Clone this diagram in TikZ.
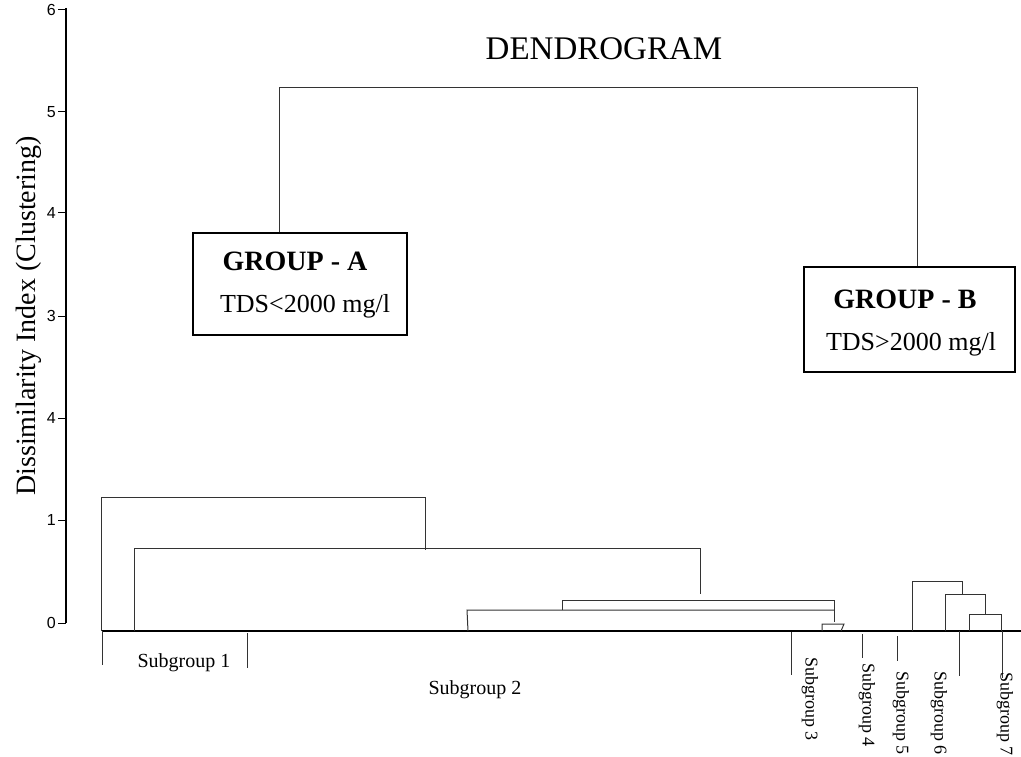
\documentclass[tikz,border=0pt]{standalone}
\usepackage{fontspec}
\setmainfont{Liberation Serif}
\newfontfamily\axisfont{Liberation Sans}
\newcommand{\fsz}[1]{\fontsize{#1}{#1}\selectfont}

\begin{document}
\begin{tikzpicture}[x=1pt, y=-1pt,
    link/.style={draw=black!80, line width=1pt},
    groupbox/.style={draw, line width=2.4pt, minimum width=#1, inner sep=0pt},
    subname/.style={font=\fsz{20}, inner sep=0pt},
    ticklab/.style={font=\axisfont\fsz{16}, anchor=east, inner sep=0pt}]
    \useasboundingbox (0, 0) rectangle (1021, 757);
        % axis
        \draw[line width=1.6pt] (66, 8) to (66, 623);
        \foreach \y/\lab [count=\i] in {10/6, 112/5, 213/4, 316/3, 418/4, 520/1, 623/0} {
            \draw[line width=1pt] (58, \y) to (66, \y);
            \node[ticklab] (tick\i) at (56, \y) {\lab};
        }
        \node[rotate=90, font=\fsz{28}] (ylab) at (29, 316) {Dissimilarity Index (Clustering)};
        \node[anchor=base, font=\fsz{33}] (title) at (604, 60) {DENDROGRAM};
        % group boxes
        \node[groupbox=214pt, minimum height=102pt] (grpA) at (300, 284) {};
        \node[anchor=base, font=\bfseries\fsz{28}] (grpAname) at (295, 270) {GROUP - A};
        \node[anchor=base, font=\fsz{26}] (grpAtds) at (305, 312) {TDS<2000 mg/l};
        \node[groupbox=211pt, minimum height=105pt] (grpB) at (909.5, 319.5) {};
        \node[anchor=base, font=\bfseries\fsz{28}] (grpBname) at (905, 308) {GROUP - B};
        \node[anchor=base, font=\fsz{26}] (grpBtds) at (911, 350) {TDS>2000 mg/l};
        \coordinate (topL) at (279, 88);
        \coordinate (topR) at (917, 88);
        \draw[link] (grpA.north -| topL) -- (topL) -- (topR) -- (grpB.north -| topR);
        % lower tree
        \draw[line width=2.4pt] (102, 631) to (1021, 631);
        \draw[link] (101, 631) -- (101, 497) -- (425, 497) -- (425, 550);
        \draw[link] (134, 631) -- (134, 548) -- (700, 548) -- (700, 594);
        \draw[link] (562, 610) -- (562, 600) -- (834, 600) -- (834, 622);
        \draw[link] (468, 631) -- (467, 610) -- (834, 610);
        \draw[link] (822, 631) -- (822, 624) -- (844, 624) -- (841, 631);
        \draw[link] (912, 631) -- (912, 581) -- (962, 581) -- (962, 594);
        \draw[link] (945, 631) -- (945, 594) -- (985, 594) -- (985, 614);
        \draw[link] (969, 631) -- (969, 614) -- (1001, 614) -- (1001, 631);
        % subgroups
        \draw[link] (102, 631) to (102, 665);
        \draw[link] (247, 633) to (247, 668);
        \node[subname, anchor=base] (sub1) at (184, 667) {Subgroup 1};
        \node[subname, anchor=base] (sub2) at (475, 694) {Subgroup 2};
        \foreach \xl/\yt/\yb/\xt/\yl/\n in {791/632/675/810/657/3, 862/634/658/867/663/4,
                897/636/661/901/671/5, 959/631/676/939/671/6, 1002/631/678/1005/672/7} {
            \draw[link] (\xl, \yt) to (\xl, \yb);
            \node[subname, font=\fsz{18}, rotate=-90, anchor=west] (sub\n) at (\xt, \yl) {Subgroup \n};
        }
    \end{tikzpicture}
\end{document}
